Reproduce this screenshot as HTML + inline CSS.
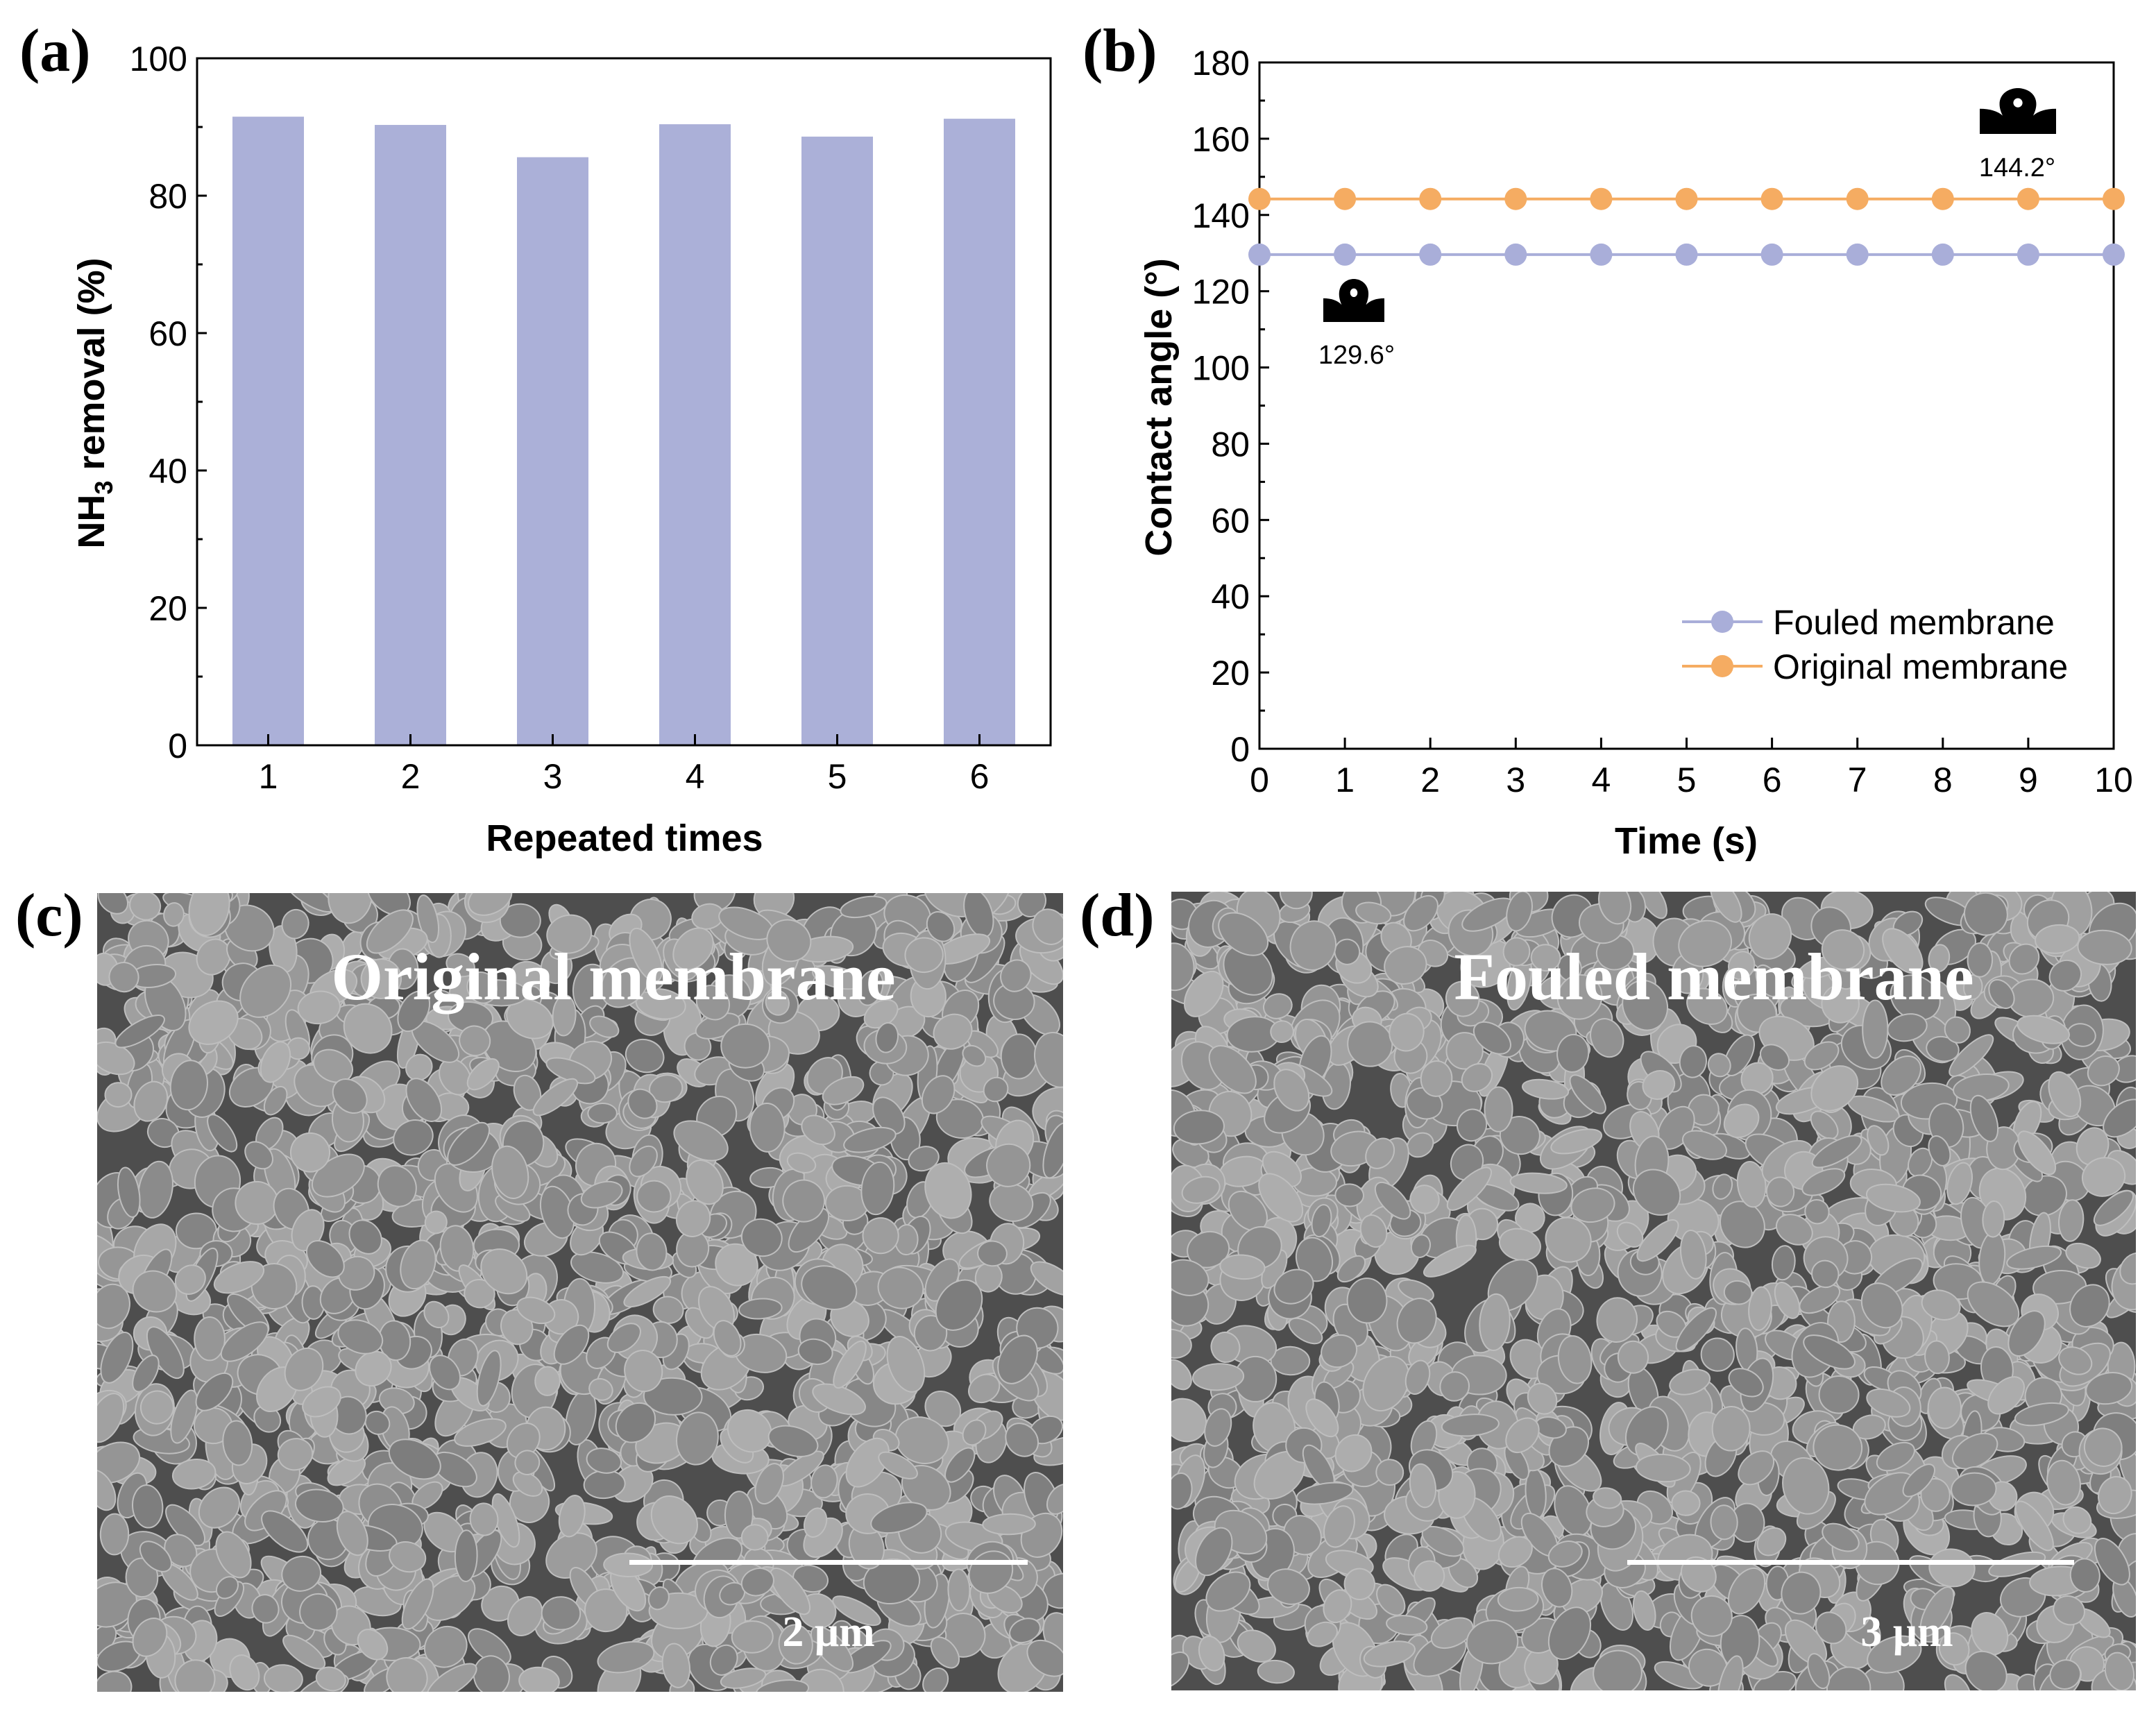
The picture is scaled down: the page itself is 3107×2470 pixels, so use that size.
<!DOCTYPE html>
<html><head><meta charset="utf-8"><style>
html,body{margin:0;padding:0;background:#fff;}
svg{display:block;}
text{font-family:"Liberation Sans",Arial,sans-serif;}
.serif{font-family:"Liberation Serif","Times New Roman",serif;font-weight:bold;}
</style></head><body>
<svg id="fig" width="3107" height="2470" viewBox="0 0 3107 2470" xmlns="http://www.w3.org/2000/svg">
<defs>
<clipPath id="clipC"><rect x="140" y="1287" width="1392" height="1151"/></clipPath>
<clipPath id="clipD"><rect x="1688" y="1285" width="1390" height="1151"/></clipPath>
</defs>
<g id="panelA"></g>
<g id="panelB"></g>
<g id="panelC"></g>
<g id="panelD"></g>
</svg>
<script>
// ---- Panel (a) data ----
const aCategories = [1, 2, 3, 4, 5, 6];
const aValues = [91.5, 90.3, 85.6, 90.4, 88.6, 91.2];
const aYTicks = [0, 20, 40, 60, 80, 100];
// ---- Panel (b) data ----
const bTimes = [0, 1, 2, 3, 4, 5, 6, 7, 8, 9, 10];
const bFouled = [129.6, 129.6, 129.6, 129.6, 129.6, 129.6, 129.6, 129.6, 129.6, 129.6, 129.6];
const bOriginal = [144.2, 144.2, 144.2, 144.2, 144.2, 144.2, 144.2, 144.2, 144.2, 144.2, 144.2];
const bYTicks = [0, 20, 40, 60, 80, 100, 120, 140, 160, 180];
const bXTicks = [0, 1, 2, 3, 4, 5, 6, 7, 8, 9, 10];

const NS = "http://www.w3.org/2000/svg";
function mk(parent, tag, attrs, txt) {
  const e = document.createElementNS(NS, tag);
  for (const k in attrs) e.setAttribute(k, attrs[k]);
  if (txt !== undefined) e.textContent = txt;
  parent.appendChild(e);
  return e;
}

// ---------- Panel A ----------
(function () {
  const g = document.getElementById('panelA');
  const L = 284, R = 1514, T = 84, B = 1074;
  const xS = v => L + (v - 0.5) / 6 * (R - L);
  const yS = v => B - v / 100 * (B - T);
  const bw = 103;
  aValues.forEach((v, i) => {
    const r = mk(g, 'rect', {x: xS(aCategories[i]) - bw / 2, y: yS(v), width: bw, height: yS(0) - yS(v), fill: '#abb0d8'});
    
    
  });
  const f = mk(g, 'rect', {x: L, y: T, width: R - L, height: B - T, fill: 'none', stroke: '#000', 'stroke-width': 3});
  
  
  aYTicks.forEach(v => {
    mk(g, 'line', {x1: L, x2: L + 14, y1: yS(v), y2: yS(v), stroke: '#000', 'stroke-width': 3});
    const t = mk(g, 'text', {x: L - 14, y: yS(v) + 18, 'font-size': 50, 'text-anchor': 'end'}, v);
    
    
  });
  for (let v = 10; v < 100; v += 20) mk(g, 'line', {x1: L, x2: L + 8, y1: yS(v), y2: yS(v), stroke: '#000', 'stroke-width': 3});
  aCategories.forEach(c => {
    mk(g, 'line', {x1: xS(c), x2: xS(c), y1: B, y2: B - 16, stroke: '#000', 'stroke-width': 3});
    const t = mk(g, 'text', {x: xS(c), y: B + 62, 'font-size': 50, 'text-anchor': 'middle'}, c);
    
    
  });
  const xt = mk(g, 'text', {x: 900, y: 1226, 'font-size': 54, 'font-weight': 'bold', 'text-anchor': 'middle'}, 'Repeated times');
  
  
  const yt = mk(g, 'text', {x: 0, y: 0, 'font-size': 54, 'font-weight': 'bold', 'text-anchor': 'middle', transform: 'translate(150,581) rotate(-90)'});
  
  
  mk(yt, 'tspan', {}, 'NH');
  mk(yt, 'tspan', {'font-size': 36, dy: 12}, '3');
  mk(yt, 'tspan', {dy: -12}, ' removal (%)');
  const lab = mk(g, 'text', {x: 28, y: 102, 'font-size': 88, class: 'serif'}, '(a)');
  
  
})();

// ---------- Panel B ----------
function droplet(g, x, y, w, h, name) {
  const d = mk(g, 'g', {transform: `translate(${x},${y})`});
  
  
  mk(d, 'path', {d: `M0 ${h*0.45} Q${w*0.2} ${h*0.45} ${w*0.3} ${h*0.6} C${w*0.18} ${h*0.2} ${w*0.35} 0 ${w*0.5} 0 C${w*0.65} 0 ${w*0.82} ${h*0.2} ${w*0.7} ${h*0.6} Q${w*0.8} ${h*0.45} ${w} ${h*0.45} L${w} ${h} L0 ${h} Z`, fill: '#000'});
  mk(d, 'ellipse', {cx: w * 0.5, cy: h * 0.32, rx: w * 0.06, ry: h * 0.1, fill: '#fff'});
}
(function () {
  const g = document.getElementById('panelB');
  const L = 1815, R = 3046, T = 90, B = 1079;
  const xS = v => L + v / 10 * (R - L);
  const yS = v => B - v / 180 * (B - T);
  const f = mk(g, 'rect', {x: L, y: T, width: R - L, height: B - T, fill: 'none', stroke: '#000', 'stroke-width': 3});
  
  
  bYTicks.forEach(v => {
    mk(g, 'line', {x1: L, x2: L + 14, y1: yS(v), y2: yS(v), stroke: '#000', 'stroke-width': 3});
    const t = mk(g, 'text', {x: L - 14, y: yS(v) + 18, 'font-size': 50, 'text-anchor': 'end'}, v);
    
    
  });
  for (let v = 10; v < 180; v += 20) mk(g, 'line', {x1: L, x2: L + 8, y1: yS(v), y2: yS(v), stroke: '#000', 'stroke-width': 3});
  bXTicks.forEach(v => {
    mk(g, 'line', {x1: xS(v), x2: xS(v), y1: B, y2: B - 16, stroke: '#000', 'stroke-width': 3});
    const t = mk(g, 'text', {x: xS(v), y: B + 62, 'font-size': 50, 'text-anchor': 'middle'}, v);
    
    
  });
  function series(vals, color, name) {
    const sg = mk(g, 'g', {});
    
    
    mk(sg, 'polyline', {points: vals.map((v, i) => xS(bTimes[i]) + ',' + yS(v)).join(' '), fill: 'none', stroke: color, 'stroke-width': 4});
    vals.forEach((v, i) => {
      const c = mk(sg, 'circle', {cx: xS(bTimes[i]), cy: yS(v), r: 16, fill: color});
      
      
    });
  }
  series(bFouled, '#a9aed9', 'fouled-series');
  series(bOriginal, '#f5ac62', 'original-series');
  const lg = mk(g, 'g', {});
  
  
  [['Fouled membrane', '#a9aed9', 896], ['Original membrane', '#f5ac62', 960]].forEach(([n, c, y]) => {
    const e = mk(lg, 'g', {});
    
    
    mk(e, 'line', {x1: 2424, x2: 2540, y1: y, y2: y, stroke: c, 'stroke-width': 4});
    mk(e, 'circle', {cx: 2482, cy: y, r: 16, fill: c});
    mk(e, 'text', {x: 2555, y: y + 18, 'font-size': 50}, n);
  });
  droplet(g, 1907, 402, 88, 62, 'droplet-icon-fouled');
  const t1 = mk(g, 'text', {x: 1955, y: 524, 'font-size': 38, 'text-anchor': 'middle'}, '129.6°');
  
  
  droplet(g, 2853, 127, 110, 66, 'droplet-icon-original');
  const t2 = mk(g, 'text', {x: 2907, y: 254, 'font-size': 38, 'text-anchor': 'middle'}, '144.2°');
  
  
  const xt = mk(g, 'text', {x: 2430, y: 1230, 'font-size': 54, 'font-weight': 'bold', 'text-anchor': 'middle'}, 'Time (s)');
  
  
  const yt = mk(g, 'text', {x: 0, y: 0, 'font-size': 54, 'font-weight': 'bold', 'text-anchor': 'middle', transform: 'translate(1688,587) rotate(-90)'}, 'Contact angle (°)');
  
  
  const lab = mk(g, 'text', {x: 1560, y: 102, 'font-size': 88, class: 'serif'}, '(b)');
  
  
})();

// ---------- SEM panels (texture) ----------
function sem(id, clip, x0, y0, w, h, seed, title, tx, bar, barLabel, blx, lab, labx) {
  const g = document.getElementById(id);
  let s = seed;
  const rnd = () => { s = (s * 16807) % 2147483647; return s / 2147483647; };
  const cg = mk(g, 'g', {'clip-path': `url(#${clip})`});
  mk(cg, 'rect', {x: x0, y: y0, width: w, height: h, fill: '#4e4e4e'});
  const n = Math.round(w * h / 1150);
  for (let i = 0; i < n; i++) {
    const cx = x0 + rnd() * w, cy = y0 + rnd() * h;
    const rx = 16 + rnd() * 26, ry = 13 + rnd() * 20;
    const gr = 125 + Math.floor(rnd() * 50);
    const rot = Math.floor(rnd() * 180);
    mk(cg, 'ellipse', {cx: cx, cy: cy, rx: rx, ry: ry, transform: `rotate(${rot} ${cx} ${cy})`, fill: `rgb(${gr},${gr},${gr})`, stroke: 'rgb(190,190,190)', 'stroke-width': 2});
  }
  const t = mk(g, 'text', {x: tx, y: 1440, 'font-size': 96, fill: '#fff', 'text-anchor': 'middle', class: 'serif'}, title);
  
  
  const b = mk(g, 'rect', {x: bar[0], y: 2248, width: bar[1] - bar[0], height: 7, fill: '#fff'});
  
  
  const bl = mk(g, 'text', {x: blx, y: 2372, 'font-size': 62, fill: '#fff', 'text-anchor': 'middle', class: 'serif'}, barLabel);
  
  
  const l = mk(g, 'text', {x: labx, y: 1348, 'font-size': 88, class: 'serif'}, lab);
  
  
}
sem('panelC', 'clipC', 140, 1287, 1392, 1151, 12345, 'Original membrane', 884, [907, 1481], '2 μm', 1194, '(c)', 22);
sem('panelD', 'clipD', 1688, 1285, 1390, 1151, 67891, 'Fouled membrane', 2470, [2345, 2989], '3 μm', 2748, '(d)', 1556);
</script>
</body></html>
